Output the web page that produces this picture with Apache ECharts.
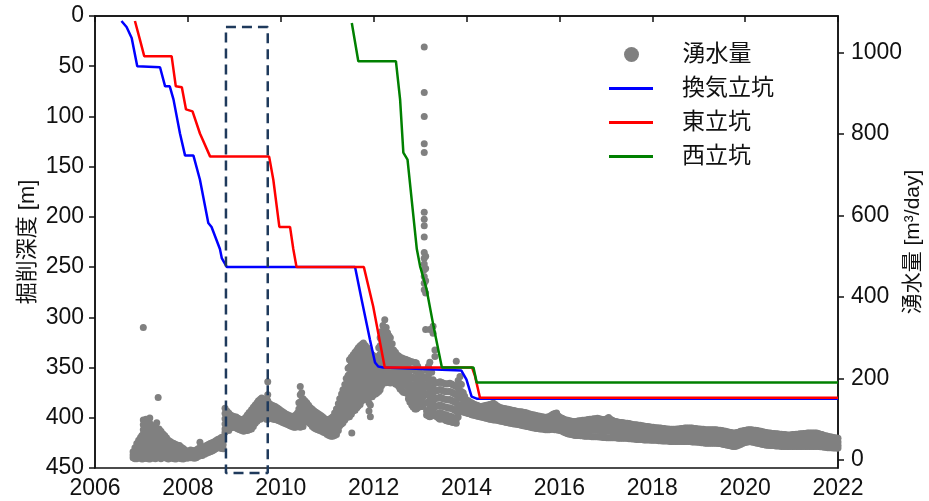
<!DOCTYPE html>
<html><head><meta charset="utf-8">
<script src="https://cdn.jsdelivr.net/npm/echarts@6/dist/echarts.min.js"></script>
<style>html,body{margin:0;padding:0;background:#fff}#c{width:929px;height:501px}</style>
</head><body><div id="c"></div>
<script>
// ---- axis ticks ----
const yearTicks = [2006, 2008, 2010, 2012, 2014, 2016, 2018, 2020, 2022];
const depthTicks = [0, 50, 100, 150, 200, 250, 300, 350, 400, 450];
const flowTicks = [0, 200, 400, 600, 800, 1000];
const scatterName = '湧水量';
const lineNames = ['換気立坑', '東立坑', '西立坑'];

// ---- excavation depth [year, depth m] ----
const depthVent = [[2006.57,5],[2006.68,11],[2006.79,22],[2006.91,50],[2007.40,51],[2007.51,70],[2007.61,70],[2007.69,83],[2007.83,117],[2007.94,139],[2008.12,139],[2008.26,163],[2008.44,206],[2008.51,210],[2008.69,232],[2008.73,241],[2008.84,250],[2011.60,250],[2011.74,282],[2011.92,322],[2012.03,345],[2012.10,349],[2012.21,350],[2013.89,353],[2014.00,362],[2014.11,379],[2014.22,381],[2022,381]];
const depthEast = [[2006.86,5],[2006.97,24],[2007.06,40],[2007.65,40],[2007.74,70],[2007.87,71],[2007.96,93],[2008.10,95],[2008.26,117],[2008.48,140],[2009.75,140],[2009.84,163],[2009.97,210],[2010.20,210],[2010.27,232],[2010.34,250],[2011.79,250],[2011.99,289],[2012.24,350],[2014.12,350],[2014.18,358],[2014.29,380],[2022,380]];
const depthWest = [[2011.53,7],[2011.67,45],[2012.48,45],[2012.57,83],[2012.64,136],[2012.73,143],[2012.93,232],[2013.00,249],[2013.14,272],[2013.29,309],[2013.47,350],[2014.15,350],[2014.22,365],[2022,365]];

// ---- highlighted period box [year, depth] ----
const boxYears = [2008.82, 2009.72];
const boxDepths = [11, 455];

// ---- water inflow [year, [values m3/day]] ----
const water2007 = [
 [2006.82,[20,12,5]],[2006.86,[30,20,10,3]],[2006.90,[40,30,20,10,3]],[2006.94,[48,36,26,16,6]],
 [2006.98,[55,45,35,25,15,5]],[2007.01,[60,48,38,28,18,8,2]],[2007.04,[325,98,86,74,62,50,40,30,20,10,3]],
 [2007.07,[92,80,68,56,44,32,22,12,4]],[2007.10,[100,88,76,64,52,40,28,18,8]],[2007.14,[90,78,66,54,42,30,20,10,3]],
 [2007.18,[103,90,76,64,52,40,28,18,8,2]],[2007.22,[80,68,56,44,32,22,12,4]],[2007.26,[72,60,48,36,26,16,6]],
 [2007.30,[85,70,58,46,34,22,12,3]],[2007.33,[91,75,62,50,38,26,14,5]],[2007.36,[153]],
 [2007.38,[76,64,52,40,28,16,6]],[2007.42,[70,58,46,34,22,12,3]],[2007.46,[64,52,40,28,18,8]],
 [2007.50,[60,48,36,26,16,6]],[2007.54,[54,42,32,22,12,4]],[2007.58,[48,38,28,18,8,2]],
 [2007.62,[45,34,24,14,5]],[2007.66,[42,32,22,12,4]],[2007.70,[40,30,20,10,3]],[2007.74,[38,28,18,8,2]],
 [2007.78,[36,26,16,6]],[2007.82,[35,24,14,4]],[2007.86,[31,21,11,3]],[2007.90,[28,18,8,2]],
 [2007.94,[24,15,6]],[2007.98,[20,12,4]],[2008.02,[22,13,5]],[2008.06,[24,14,5]],[2008.10,[23,13,5]],
 [2008.14,[22,12,4]],[2008.18,[24,14,5]],[2008.22,[27,17,8]],[2008.26,[43,30,20,10]],
 [2008.31,[30,20,11]],[2008.36,[33,24,14]],[2008.40,[35,26,16]],[2008.44,[38,28,18]],[2008.48,[40,30,20]],
 [2008.52,[42,32,22]],[2008.56,[44,34,24]],[2008.60,[47,37,27]],[2008.64,[50,40,30]],
 [2008.68,[52,42,32]],[2008.72,[55,45,35,28]],[2008.76,[57,47,37,27]]
];
const water2009 = [
 [2008.80,[127,114,101,88,76,68]],[2008.84,[120,108,96,84,74]],[2008.88,[115,104,92,80,72]],[2008.92,[110,99,88,78]],
 [2008.96,[108,97,86,80]],[2009.00,[106,95,84,80]],[2009.04,[105,94,84,78]],[2009.08,[102,92,82,76]],
 [2009.12,[100,90,80,74]],[2009.16,[99,88,78,72]],[2009.20,[98,87,76,70]],[2009.24,[104,92,80,72]],
 [2009.28,[110,99,88,78,72]],[2009.32,[116,104,92,80,74]],[2009.37,[123,111,99,87,76]],[2009.41,[129,117,105,93,82]],
 [2009.45,[135,123,111,99,90]],[2009.49,[140,128,116,104,95]],[2009.52,[145,133,121,109,100]],
 [2009.56,[149,137,125,113,100]],[2009.59,[152,140,128,116,104]],[2009.62,[146,134,122,110]],
 [2009.66,[140,128,116,106]],[2009.69,[150,136,122,110,100]],[2009.72,[192,160,145,132,120,108,100]],
 [2009.76,[138,126,114,102]],[2009.80,[135,123,111,102]],[2009.84,[133,121,109,100]],[2009.88,[131,119,107,99]],
 [2009.92,[128,116,104,98]],[2009.96,[125,114,103,96]],[2010.00,[121,110,99,94]],[2010.04,[118,107,96,92]],
 [2010.08,[115,104,94,90]],[2010.12,[112,102,92,88]],[2010.16,[110,100,90,86]],[2010.20,[108,98,88,84]],
 [2010.24,[107,96,86,82]],[2010.28,[106,95,84,80]],[2010.32,[110,98,86,80]],[2010.36,[115,103,91,82]],
 [2010.39,[140,125,110,96,84]],[2010.42,[180,160,142,126,110,96,80]],[2010.45,[165,145,128,112,98,84]],
 [2010.48,[150,135,120,106,94,82]],[2010.52,[145,130,116,104,94]],[2010.56,[140,127,114,104,98]],
 [2010.60,[134,121,108,96,92]],[2010.64,[128,116,104,92,88]],[2010.68,[124,112,100,88,82]],
 [2010.72,[120,108,96,84,78]],[2010.76,[117,105,93,81,76]],[2010.80,[114,102,90,80,74]],
 [2010.84,[111,99,87,77,72]],[2010.88,[108,96,84,74,70]],[2010.92,[104,93,82,72,68]],
 [2010.96,[100,90,80,70,66]],[2011.00,[99,88,77,67,62]],[2011.04,[98,86,74,64,60]],[2011.08,[102,89,76,64,58]],
 [2011.12,[106,93,80,68,58]],[2011.16,[115,101,87,74,60]],[2011.20,[125,111,97,83,70,62]],
 [2011.24,[138,123,108,94,80,72]],[2011.27,[150,135,120,106,92,84]],[2011.31,[162,146,130,115,100,88]],
 [2011.34,[172,157,142,127,112,100,91]],[2011.38,[185,168,152,136,120,106,98]]
];
const water2012 = [
 [2011.41,[200,184,168,152,136,120,104]],[2011.45,[225,207,189,171,153,135,118,105]],
 [2011.48,[246,228,210,192,174,156,138,120,106]],[2011.52,[252,234,216,198,180,162,144,126,112]],[2011.53,[66]],
 [2011.56,[258,240,222,204,186,168,150,132,120]],[2011.60,[264,246,228,210,192,174,156,138,122]],
 [2011.64,[270,252,234,216,198,180,162,144,128]],[2011.67,[275,257,239,221,203,185,167,149,132]],
 [2011.71,[280,262,244,226,208,190,172,154,136]],[2011.75,[284,266,248,230,212,194,176,158,145]],
 [2011.78,[287,269,251,233,215,197,179,161,150]],[2011.82,[281,263,245,227,209,191,173,155,148]],
 [2011.86,[275,257,239,221,203,185,167,150]],[2011.90,[268,250,232,214,196,178,160,140,120]],
 [2011.93,[263,245,227,209,191,173,155,135,106]],[2011.97,[258,240,222,204,186,168,155]],
 [2012.00,[255,238,221,204,187,170,160]],[2012.04,[250,233,216,199,182,168,162]],
 [2012.07,[246,230,214,198,182,170,164]],[2012.11,[275,255,235,215,198,182,168]],
 [2012.14,[300,280,260,240,222,204,188,172]],[2012.17,[315,295,275,255,235,216,198,182]],
 [2012.20,[330,308,286,264,244,224,205,189]],[2012.24,[344,322,300,278,256,236,216,198,189]],
 [2012.27,[325,305,285,265,245,225,206,190]],[2012.30,[312,292,272,252,232,212,195]],
 [2012.33,[305,285,265,245,225,205,190]],[2012.36,[300,280,260,240,220,202,189]],
 [2012.40,[285,266,247,228,210,194]],[2012.43,[270,252,234,216,200,190]],[2012.47,[264,246,228,210,194,186]],
 [2012.50,[258,242,226,210,194,185]],[2012.54,[255,239,223,207,191,180]],[2012.57,[252,236,220,204,188,174]],
 [2012.61,[250,234,218,202,186,170]],[2012.64,[248,232,216,200,184,166]],[2012.68,[247,231,215,199,183,165]],
 [2012.71,[246,230,214,198,182,164]],[2012.75,[244,227,210,193,176,160,150]],
 [2012.78,[242,224,206,188,170,152,142]],[2012.82,[241,222,203,184,165,146,135]],
 [2012.85,[240,221,202,183,164,145,130]],[2012.89,[239,219,199,179,159,140,125]],
 [2012.92,[238,218,198,178,158,138,125]],[2012.95,[230,211,192,173,154,136,128]],
 [2012.98,[220,202,184,166,148,131]],[2013.02,[212,195,178,161,144,131]]
];
const water2013 = [
 [2013.06,[205,188,171,154,138,131]],
 [2013.09,[1014,902,843,776,755,608,591,575,547,509,495,481,467,450,434,418]],
 [2013.12,[500,470,440,410,320]],[2013.14,[220,200,180,160,140,120,110]],
 [2013.18,[230,208,186,164,142,122,108]],[2013.21,[320,240,218,196,174,152,130,112,106]],
 [2013.25,[215,195,175,155,135,116,108]],[2013.28,[328,311,197,178,159,140,121,110]],[2013.32,[270,254,190,170,150,130,112]],
 [2013.36,[189,170,151,132,113,106]],[2013.40,[190,171,152,133,114,102]],[2013.43,[192,173,154,135,116,100]],
 [2013.47,[190,171,152,133,114,101]],[2013.50,[188,169,150,131,112,102]],[2013.54,[187,168,149,130,111,98]],
 [2013.57,[186,167,148,129,110,96]],[2013.61,[187,167,147,127,107,95]],[2013.64,[188,168,148,128,108,94]],
 [2013.68,[186,166,146,126,106,93]],[2013.71,[184,164,144,124,104,92]],[2013.75,[182,162,142,122,102,91]],
 [2013.78,[242,180,160,140,120,100,90]],[2013.82,[195,175,155,135,115,105]],[2013.86,[205,187,169,151,133,123]],
 [2013.89,[185,168,151,134,120]],[2013.93,[165,152,139,126,118]],[2013.96,[156,144,132,120,116]],
 [2014.00,[147,137,127,117,115]],[2014.04,[145,135,125,115,114]],[2014.07,[142,132,122,113]],
 [2014.11,[140,130,120,111]],[2014.14,[138,128,118,110]],[2014.18,[136,126,116,109]],
 [2014.22,[134,124,114,108]],[2014.25,[133,123,113,107]],[2014.29,[131,121,111,106]],
 [2014.32,[131,121,111,105]],[2014.36,[132,122,112,104]],[2014.40,[133,122,111,103]],
 [2014.43,[134,123,112,102]],[2014.47,[135,124,112,101]],[2014.50,[136,124,112,100]],
 [2014.54,[137,125,112,99]],[2014.58,[139,126,113,98]],[2014.62,[136,123,110,98]],
 [2014.66,[132,120,108,97]],[2014.70,[130,118,106,96]],[2014.74,[128,116,104,95]],
 [2014.78,[127,115,103,94]],[2014.82,[126,114,102,93]],[2014.86,[125,113,101,92]],
 [2014.90,[124,112,100,91]],[2014.94,[123,111,99,90]],[2014.98,[122,110,98,89]],[2015.02,[121,109,97,88]]
];
const water2016 = [
 [2015.06,[120,108,96,88]],[2015.10,[119,107,95,87]],[2015.14,[118,106,94,86]],[2015.18,[118,105,93,85]],
 [2015.22,[117,104,92,84]],[2015.26,[116,103,91,83]],[2015.30,[115,102,90,82]],[2015.34,[113,100,88,81]],
 [2015.38,[112,99,87,80]],[2015.42,[111,98,86,79]],[2015.46,[110,97,85,78]],[2015.50,[109,96,84,77]],
 [2015.54,[108,95,84,77]],[2015.58,[107,94,83,76]],[2015.62,[106,94,83,76]],[2015.66,[105,93,82,75]],
 [2015.70,[104,92,81,74]],[2015.74,[105,93,82,74]],[2015.78,[106,94,82,74]],[2015.82,[109,96,83,75]],
 [2015.86,[112,98,85,75]],[2015.90,[114,99,85,74]],[2015.94,[115,100,86,74]],[2015.98,[108,96,84,73]],
 [2016.02,[104,92,81,72]],[2016.06,[102,90,79,70]],[2016.10,[100,88,76,68]],[2016.14,[98,86,74,66]],
 [2016.18,[97,85,73,64]],[2016.22,[96,84,72,63]],[2016.26,[95,83,71,62]],[2016.30,[94,82,70,61]],
 [2016.34,[94,82,70,60]],[2016.38,[95,83,71,60]],[2016.42,[96,84,72,60]],[2016.46,[96,84,72,59]],
 [2016.50,[97,85,72,59]],[2016.54,[97,85,72,58]],[2016.58,[98,85,72,58]],[2016.62,[99,86,72,58]],
 [2016.66,[100,87,73,58]],[2016.70,[100,87,73,57]],[2016.74,[101,88,73,57]],[2016.78,[101,88,73,57]],
 [2016.82,[102,88,73,57]],[2016.86,[101,87,72,56]],[2016.90,[100,86,71,56]],[2016.94,[99,85,70,55]],
 [2016.98,[99,85,70,55]],[2017.02,[101,86,70,54]],[2017.06,[104,88,71,54]],[2017.10,[100,85,70,54]],
 [2017.14,[97,83,69,54]],[2017.18,[95,82,68,54]],[2017.22,[94,81,67,54]],[2017.26,[93,80,66,53]],
 [2017.30,[92,79,66,53]],[2017.34,[92,79,66,53]],[2017.38,[91,78,65,53]],[2017.42,[90,77,65,53]],
 [2017.46,[90,77,64,53]],[2017.50,[89,76,64,52]],[2017.54,[88,76,64,52]],[2017.58,[87,75,63,51]],
 [2017.62,[86,74,62,51]],[2017.66,[86,74,62,50]],[2017.70,[85,73,61,50]],[2017.74,[85,73,61,50]],
 [2017.78,[84,72,60,50]],[2017.82,[83,71,60,49]],[2017.86,[82,71,60,49]],[2017.90,[82,70,59,49]],
 [2017.94,[81,70,59,49]],[2017.98,[80,69,58,48]],[2018.02,[80,69,58,48]],[2018.06,[79,68,58,48]],
 [2018.10,[79,68,57,48]],[2018.14,[78,67,57,47]],[2018.18,[78,67,56,47]],[2018.22,[77,66,56,46]],
 [2018.26,[77,66,56,46]],[2018.30,[76,65,55,46]],[2018.34,[76,65,55,46]],[2018.38,[75,65,55,45]],
 [2018.42,[75,64,54,45]],[2018.46,[75,64,54,45]],[2018.50,[75,64,54,45]],[2018.54,[76,65,55,45]]
];
const water2020 = [
 [2018.58,[76,65,55,45]],[2018.62,[77,66,55,45]],[2018.66,[77,66,55,45]],[2018.70,[78,66,55,45]],
 [2018.74,[78,66,55,45]],[2018.78,[78,66,55,45]],[2018.82,[78,66,55,45]],[2018.86,[78,66,54,44]],
 [2018.90,[77,65,54,44]],[2018.94,[77,65,54,44]],[2018.98,[76,64,53,43]],[2019.02,[76,64,53,43]],
 [2019.06,[75,63,52,42]],[2019.10,[75,63,52,42]],[2019.14,[74,62,51,41]],[2019.18,[74,62,51,41]],
 [2019.22,[74,62,51,41]],[2019.26,[74,62,51,41]],[2019.30,[74,62,51,41]],[2019.34,[74,62,51,41]],
 [2019.38,[74,62,51,41]],[2019.42,[73,61,50,40]],[2019.46,[73,61,50,40]],[2019.50,[72,60,49,39]],
 [2019.54,[71,59,48,38]],[2019.58,[70,58,47,37]],[2019.62,[69,57,46,36]],[2019.66,[68,56,45,35]],
 [2019.70,[67,55,44,34]],[2019.74,[66,54,43,33]],[2019.78,[66,54,43,33]],[2019.82,[67,55,44,34]],
 [2019.86,[68,57,46,36]],[2019.90,[70,59,48,38]],[2019.94,[71,60,50,40]],[2019.98,[72,61,51,42]],
 [2020.02,[73,62,52,43]],[2020.06,[74,63,53,44]],[2020.10,[74,64,54,45]],[2020.14,[74,63,53,44]],
 [2020.18,[73,62,52,43]],[2020.22,[73,62,51,42]],[2020.26,[72,61,50,41]],[2020.30,[71,60,49,40]],
 [2020.34,[70,59,48,39]],[2020.38,[69,58,47,38]],[2020.42,[68,57,46,37]],[2020.46,[67,56,45,36]],
 [2020.50,[66,55,45,36]],[2020.54,[66,55,44,35]],[2020.58,[65,54,44,35]],[2020.62,[65,54,44,35]],
 [2020.66,[64,53,43,34]],[2020.70,[64,53,43,34]],[2020.74,[63,52,42,34]],[2020.78,[63,52,42,33]],
 [2020.82,[62,51,42,33]],[2020.86,[62,51,41,33]],[2020.90,[61,50,41,33]],[2020.94,[61,50,41,33]],
 [2020.98,[61,50,41,33]],[2021.02,[62,51,41,33]],[2021.06,[62,51,41,33]],[2021.10,[63,52,42,33]],
 [2021.14,[63,52,42,33]],[2021.18,[64,53,42,33]],[2021.22,[64,53,42,33]],[2021.26,[65,53,42,33]],
 [2021.30,[65,54,43,33]],[2021.34,[66,54,43,33]],[2021.38,[66,54,43,33]],[2021.42,[66,54,43,33]],
 [2021.46,[66,54,43,33]],[2021.50,[66,54,43,33]],[2021.54,[66,54,43,33]],[2021.58,[65,53,42,33]],
 [2021.62,[63,52,42,32]],[2021.66,[62,51,41,32]],[2021.70,[60,50,40,31]],[2021.74,[59,49,39,31]],
 [2021.78,[58,48,39,30]],[2021.82,[57,47,38,30]],[2021.86,[56,46,38,30]],[2021.90,[55,46,37,29]],
 [2021.94,[54,45,37,29]],[2021.98,[53,44,36,29]],[2022.00,[53,44,36,29]]
];

const waterPoints = [];
[water2007, water2009, water2012, water2013, water2016, water2020].forEach(group =>
  group.forEach(([yr, vals]) => vals.forEach(v => waterPoints.push([yr, v]))));

const boxPath = [[boxYears[0],boxDepths[0]],[boxYears[1],boxDepths[0]],[boxYears[1],boxDepths[1]],[boxYears[0],boxDepths[1]],[boxYears[0],boxDepths[0]]];

const FONT = "'Liberation Sans', 'Noto Sans CJK JP', Arial, sans-serif";
const txt = {color:'#111', fontFamily: FONT, fontSize: 23};
const plain = v => String(v);

const chart = echarts.init(document.getElementById('c'), null, {renderer:'canvas'});
chart.setOption({
  animation: false,
  backgroundColor: '#fff',
  grid: {left: 95, right: 91, top: 16, bottom: 33, outerBoundsMode: 'none', containLabel: false,
         show: true, borderColor: '#111', borderWidth: 1.5, backgroundColor: 'transparent'},
  legend: [{
    data: [{name: scatterName, icon: 'circle'}], orient: 'vertical', left: 624, top: 43, padding: 0,
    itemWidth: 44, itemHeight: 15,
    textStyle: Object.assign({}, txt, {padding: [0,0,0,24]})
  }, {
    data: lineNames.map(n => ({name: n, icon: 'rect'})), orient: 'vertical', left: 609, top: 77, padding: 0,
    itemWidth: 44, itemHeight: 3, itemGap: 11,
    textStyle: Object.assign({}, txt, {padding: [0,0,0,24]})
  }],
  xAxis: {
    type: 'value', min: yearTicks[0], max: yearTicks[yearTicks.length-1], interval: 2,
    axisLine: {show: true, lineStyle: {color:'#111', width: 1.5}},
    axisTick: {show: true, length: 6, lineStyle: {color:'#111', width: 1.5}},
    axisLabel: Object.assign({}, txt, {margin: 9, formatter: plain, showMinLabel: true, showMaxLabel: true}),
    splitLine: {show: false}
  },
  yAxis: [{
    type: 'value', inverse: true, min: depthTicks[0], max: depthTicks[depthTicks.length-1], interval: 50, position: 'left',
    name: '掘削深度 [m]', nameLocation: 'middle', nameGap: 56, nameRotate: 90, nameMoveOverlap: false,
    nameTextStyle: Object.assign({}, txt, {fontSize: 22}),
    axisLine: {show: true, lineStyle: {color:'#111', width: 1.5}},
    axisTick: {show: true, length: 6, lineStyle: {color:'#111', width: 1.5}},
    axisLabel: Object.assign({}, txt, {margin: 11, formatter: plain}),
    splitLine: {show: false}
  }, {
    type: 'value', min: -20, max: 1090, position: 'right',
    name: '湧水量 [m³/day]', nameLocation: 'middle', nameGap: 65, nameRotate: 90, nameMoveOverlap: false,
    nameTextStyle: Object.assign({}, txt, {fontSize: 21}),
    axisLine: {show: true, lineStyle: {color:'#111', width: 1.5}},
    axisTick: {show: true, length: 6, customValues: flowTicks, lineStyle: {color:'#111', width: 1.5}},
    axisLabel: Object.assign({}, txt, {margin: 13, customValues: flowTicks, formatter: plain}),
    splitLine: {show: false}
  }],
  series: [
    {name: scatterName, type: 'scatter', yAxisIndex: 1, data: waterPoints, symbolSize: 7,
     itemStyle: {color: '#808080', opacity: 1}, z: 1},
    {name: lineNames[0], type: 'line', yAxisIndex: 0, data: depthVent, symbol: 'none',
     lineStyle: {color: '#0000ff', width: 2.5}, itemStyle: {color: '#0000ff'}, z: 3},
    {name: lineNames[1], type: 'line', yAxisIndex: 0, data: depthEast, symbol: 'none',
     lineStyle: {color: '#ff0000', width: 2.5}, itemStyle: {color: '#ff0000'}, z: 4},
    {name: lineNames[2], type: 'line', yAxisIndex: 0, data: depthWest, symbol: 'none',
     lineStyle: {color: '#008000', width: 2.5}, itemStyle: {color: '#008000'}, z: 5},
    {name: 'box', type: 'line', yAxisIndex: 0, data: boxPath, symbol: 'none', clip: false, silent: true,
     lineStyle: {color: '#1f3a5c', width: 2.5, type: [10, 6]}, z: 6}
  ]
});
</script></body></html>
